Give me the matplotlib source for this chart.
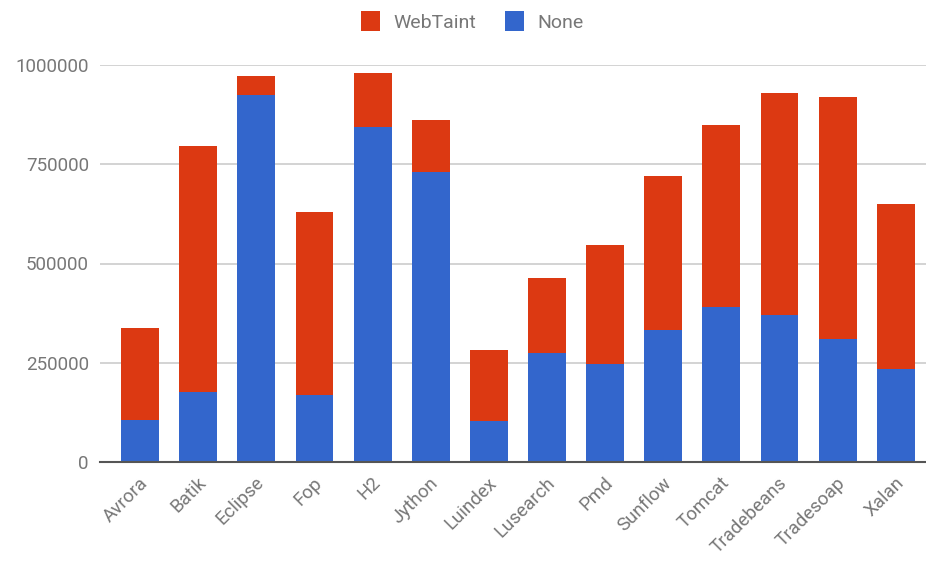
import numpy as np
import matplotlib
matplotlib.use("Agg")
import matplotlib.pyplot as plt
import matplotlib.transforms as mtransforms
from matplotlib.patches import Patch

## data ##
benchmarks = ["Avrora", "Batik", "Eclipse", "Fop", "H2", "Jython", "Luindex",
              "Lusearch", "Pmd", "Sunflow", "Tomcat", "Tradebeans", "Tradesoap", "Xalan"]
webtaint = [336500, 795000, 973500, 630500, 981000, 862000, 283000,
            464000, 547500, 721000, 849500, 928500, 920000, 650500]
none_vals = [106500, 176500, 925000, 169000, 843000, 730500, 102500,
             275500, 247000, 333000, 391000, 370500, 309000, 234500]
yticks = [0, 250000, 500000, 750000, 1000000]

red = "#DC3912"
blue = "#3366CC"
txt = "#777777"

plt.rcParams['font.family'] = ['Roboto', 'DejaVu Sans']

fig = plt.figure(figsize=(9.26, 5.63), dpi=100)
ax = fig.add_axes([100/926, (563-462)/563, 826/926, (462-65)/563])

x = np.arange(len(benchmarks))
ax.bar(x, webtaint, width=0.65, color=red, zorder=2)
ax.bar(x, none_vals, width=0.65, color=blue, zorder=3)

ax.set_xlim(-0.69, 13.52)
ax.set_ylim(0, 1000000)
ax.set_yticks(yticks)
ax.set_yticklabels([str(v) for v in yticks], fontsize=13.5, color=txt)
ax.yaxis.grid(True, color="#cccccc", linewidth=1.2, zorder=0)
ax.set_axisbelow(True)

ax.set_xticks(x)
ax.set_xticklabels(benchmarks, fontsize=13.5, color=txt, rotation=45,
                   ha="right", va="center", rotation_mode="anchor")
ax.tick_params(axis="both", length=0)
ax.tick_params(axis="y", pad=8)
ax.tick_params(axis="x", pad=13)
# nudge the slanted labels a little to the right
shift = mtransforms.ScaledTranslation(5/100, 0, fig.dpi_scale_trans)
for lbl in ax.get_xticklabels():
    lbl.set_transform(lbl.get_transform() + shift)

for s in ["top", "right", "left"]:
    ax.spines[s].set_visible(False)
ax.spines["bottom"].set_color("#555555")
ax.spines["bottom"].set_linewidth(1.5)
ax.spines["bottom"].set_zorder(4)

handles = [Patch(facecolor=red, label="WebTaint"), Patch(facecolor=blue, label="None")]
leg = fig.legend(handles=handles, loc="center", bbox_to_anchor=(0.51, 0.962), ncol=2,
                 frameon=False, fontsize=14, handlelength=0.95, handleheight=1.2,
                 columnspacing=1.5, handletextpad=0.7)
for t in leg.get_texts():
    t.set_color(txt)

fig.savefig("out.png", dpi=100)
